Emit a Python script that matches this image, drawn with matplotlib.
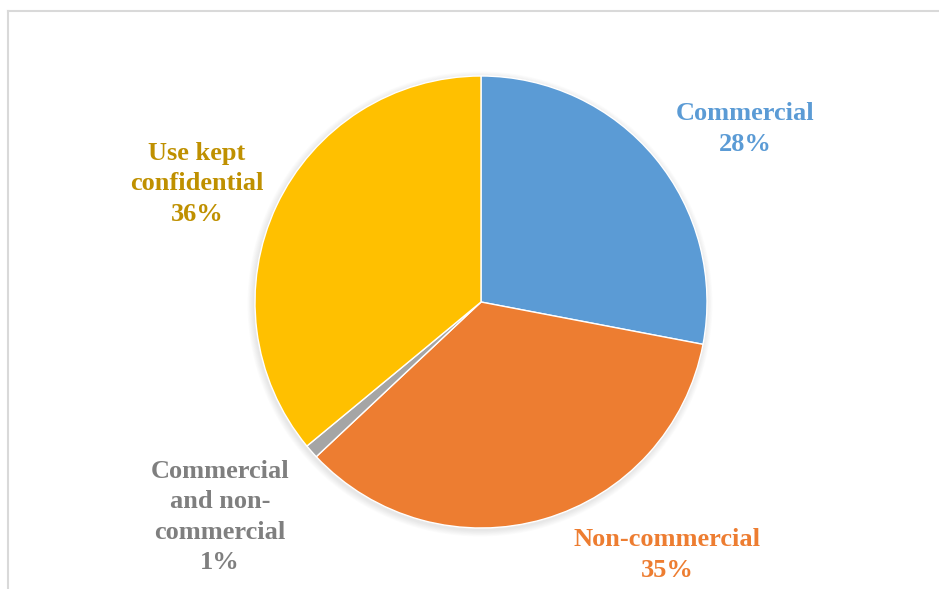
import matplotlib.pyplot as plt
from matplotlib.patches import Circle

# 用途別の割合
labels = ["Commercial", "Non-commercial", "Commercial\nand non-\ncommercial", "Use kept\nconfidential"]
shares = [28, 35, 1, 36]
colors = ["#5B9BD5", "#ED7D31", "#A5A5A5", "#FFC000"]
label_colors = ["#5B9BD5", "#ED7D31", "#7F7F7F", "#BF9000"]

W, H = 939, 589
fig = plt.figure(figsize=(W / 100, H / 100), dpi=100)
ax = fig.add_axes([0, 0, 1, 1])
ax.set_xlim(0, W)
ax.set_ylim(0, H)
ax.set_aspect("equal")
ax.axis("off")

cx, cy, r = 481, H - 302, 226

# うっすらとした影
for i in range(8):
    ax.add_patch(Circle((cx - 1, cy - 2), r + 1 + i * 0.8, color="#000000",
                        alpha=0.012, lw=0, zorder=1))

ax.pie(shares, colors=colors, startangle=90, counterclock=False,
       center=(cx, cy), radius=r, frame=True,
       wedgeprops=dict(edgecolor="white", linewidth=1, zorder=2))
ax.set_xlim(0, W)
ax.set_ylim(0, H)
ax.axis("off")

# ラベル（名前と割合）
label_pos = [(745, 129), (667, 555), (220, 517), (197, 184)]
for name, val, col, (x, y) in zip(labels, shares, label_colors, label_pos):
    ax.text(x, H - y, f"{name}\n{val}%", color=col, ha="center", va="center",
            fontsize=19, fontweight="bold", family="Liberation Serif",
            linespacing=1.42)

# 枠線（上と左）
ax.plot([8, W], [H - 10.5, H - 10.5], color="#D9D9D9", lw=1.5, clip_on=False)
ax.plot([8, 8], [0, H - 10.5], color="#D9D9D9", lw=1.5, clip_on=False)

fig.savefig("out.png", dpi=100)
